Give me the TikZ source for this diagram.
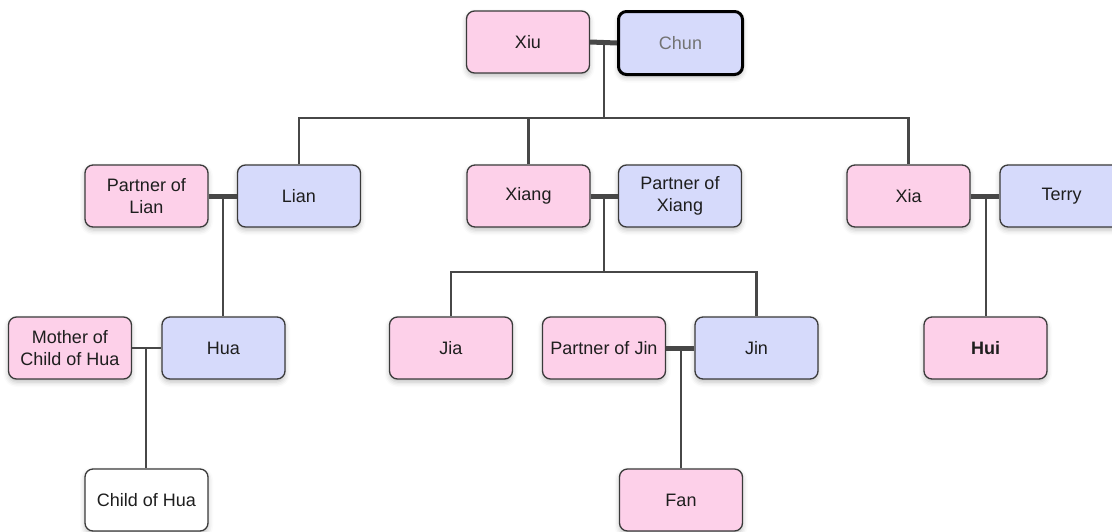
\documentclass[tikz,border=0pt]{standalone}
\usepackage{fontspec}
\setmainfont{Liberation Sans}
\usetikzlibrary{calc,shadows.blur}
\definecolor{pinkfill}{HTML}{FDD0E9}
\definecolor{bluefill}{HTML}{D6DAFB}
\definecolor{edgecol}{HTML}{3A3A3A}
\definecolor{linecol}{HTML}{474747}
\definecolor{txt}{HTML}{1E1E1E}
\tikzset{
  person/.style={rounded corners=8pt, minimum width=123pt, minimum height=62pt,
    draw=edgecol, line width=1.3pt, align=center, text=txt,
    font=\fontsize{18}{21.5}\selectfont, inner sep=2pt,
    blur shadow={shadow xshift=0pt, shadow yshift=-3pt, shadow blur radius=5pt, shadow opacity=25}},
  fem/.style={person, fill=pinkfill},
  mal/.style={person, fill=bluefill},
  plain/.style={person, fill=white},
  link/.style={draw=linecol, line width=2.4pt},
  wed/.style={draw=linecol, line width=5pt},
  wedthin/.style={draw=linecol, line width=2.6pt}
}
\begin{document}
\begin{tikzpicture}[x=1pt,y=-1pt]
\useasboundingbox (0,0) rectangle (1112,531);
% nodes
\node[fem] (xiu) at (528,42) {Xiu};
\node[mal, draw=black, line width=3pt, text=black!55, minimum width=124pt, minimum height=63pt] (chun) at (680.5,43) {Chun};
\node[fem] (pol) at (146.5,196) {Partner of\\Lian};
\node[mal] (lian) at (299,196) {Lian};
\node[fem] (xiang) at (528.5,196) {Xiang};
\node[mal] (pox) at (680,196) {Partner of\\Xiang};
\node[fem] (xia) at (908.5,196) {Xia};
\node[mal] (terry) at (1061.5,196) {Terry};
\node[fem] (mother) at (70,348) {Mother of\\Child of Hua};
\node[mal] (hua) at (223.5,348) {Hua};
\node[fem] (jia) at (451,348) {Jia};
\node[fem] (poj) at (604,348) {Partner of Jin};
\node[mal] (jin) at (756.5,348) {Jin};
\node[fem, font=\fontsize{18}{21.5}\selectfont\bfseries] (hui) at (985.5,348) {Hui};
\node[plain] (child) at (146.5,500) {Child of Hua};
\node[fem] (fan) at (681,500) {Fan};
% junction coordinates
\coordinate (m1) at (604,42);
\coordinate (bar1) at (604,118);
\coordinate (m2) at (223,196);
\coordinate (m3) at (604,196);
\coordinate (bar3) at (604,272);
\coordinate (m4) at (986,196);
\coordinate (m5) at (146,349);
\coordinate (m6) at (681,349);
% connectors
\draw[wed] (xiu.east) -- (chun.west);
\draw[link] (m1) -- (bar1);
\draw[link] (lian.north) |- (bar1) -| (xia.north);
\draw[link] (xiang.north) -- (xiang.north |- bar1);
\draw[wed] (pol.east) -- (lian.west);
\draw[link] (m2) -- (m2 |- hua.north);
\draw[wed] (xiang.east) -- (pox.west);
\draw[link] (m3) -- (bar3);
\draw[link] (jia.north) |- (bar3) -| (jin.north);
\draw[wed] (xia.east) -- (terry.west);
\draw[link] (m4) -- (m4 |- hui.north);
\draw[wedthin] (mother.east) -- (hua.west);
\draw[link] (m5) -- (m5 |- child.north);
\draw[wed] (poj.east) -- (jin.west);
\draw[link] (m6) -- (m6 |- fan.north);
\end{tikzpicture}
\end{document}
